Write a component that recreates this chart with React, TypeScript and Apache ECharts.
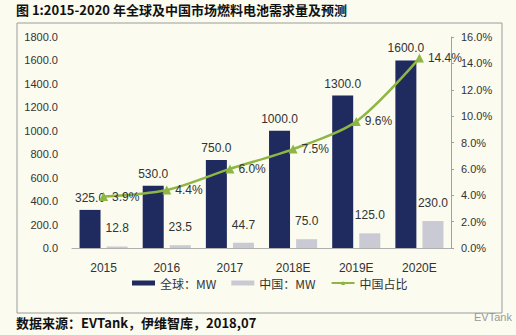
import React, { useEffect, useRef } from "react";
import * as echarts from "echarts";

const categories = ["2015", "2016", "2017", "2018E", "2019E", "2020E"];
const globalMW = [325.0, 530.0, 750.0, 1000.0, 1300.0, 1600.0];
const chinaMW = [12.8, 23.5, 44.7, 75.0, 125.0, 230.0];
const chinaShare = [3.9, 4.4, 6.0, 7.5, 9.6, 14.4];

const FONT = "'Liberation Sans', 'Noto Sans CJK SC', sans-serif";
const CJK = "'Noto Sans CJK SC', 'Liberation Sans', sans-serif";

export default function App() {
  const ref = useRef<HTMLDivElement>(null);
  useEffect(() => {
    if (!ref.current) return;
    const chart = echarts.init(ref.current, null, { renderer: "svg" });
    chart.setOption({
      animation: false,
      backgroundColor: "#fbfbef",
      textStyle: { fontFamily: FONT },
      grid: { left: 72, right: 65, top: 37, bottom: 87, containLabel: false },
      legend: {
        bottom: 41,
        left: 127,
        itemWidth: 23,
        itemHeight: 5,
        itemGap: 15,
        textStyle: { fontFamily: CJK, fontSize: 12, color: "#333" },
        data: [
          { name: "全球：MW", icon: "rect" },
          { name: "中国：MW", icon: "rect" },
          { name: "中国占比" },
        ],
      },
      xAxis: {
        type: "category",
        data: categories,
        axisLine: { show: true, lineStyle: { color: "#b0b0b0" } },
        axisTick: { show: false },
        axisLabel: { color: "#333", fontSize: 12, margin: 14, fontFamily: FONT },
      },
      yAxis: [
        {
          type: "value",
          min: 0,
          max: 1800,
          interval: 200,
          axisLine: { show: false },
          axisTick: { show: false },
          splitLine: { show: false },
          axisLabel: {
            color: "#333",
            fontSize: 11,
            margin: 14,
            formatter: (v: number) => v.toFixed(1),
          },
        },
        {
          type: "value",
          min: 0,
          max: 16,
          interval: 2,
          position: "right",
          axisLine: { show: true, lineStyle: { color: "#a0a0a0" } },
          axisTick: { show: true, length: 3, lineStyle: { color: "#a0a0a0" } },
          splitLine: { show: false },
          axisLabel: {
            color: "#333",
            fontSize: 11,
            margin: 10,
            formatter: (v: number) => v.toFixed(1) + "%",
          },
        },
      ],
      series: [
        {
          name: "全球：MW",
          type: "bar",
          data: globalMW,
          barWidth: 21,
          barGap: "29%",
          itemStyle: { color: "#1f2a5e" },
          label: {
            show: true,
            position: "top",
            distance: 6,
            color: "#333",
            fontSize: 12,
            formatter: (p: any) => Number(p.value).toFixed(1),
          },
        },
        {
          name: "中国：MW",
          type: "bar",
          data: chinaMW,
          barWidth: 21,
          itemStyle: { color: "#c9cad4" },
          label: {
            show: true,
            position: "top",
            distance: 12,
            color: "#333",
            fontSize: 12,
            formatter: (p: any) => Number(p.value).toFixed(1),
          },
        },
        {
          name: "中国占比",
          type: "line",
          yAxisIndex: 1,
          data: chinaShare,
          smooth: 0.3,
          symbol: "triangle",
          symbolSize: 9,
          lineStyle: { color: "#8db645", width: 2.5 },
          itemStyle: { color: "#8db645" },
          label: {
            show: true,
            position: "right",
            distance: 4,
            color: "#333",
            fontSize: 12,
            formatter: (p: any) => Number(p.value).toFixed(1) + "%",
          },
          z: 5,
        },
      ],
      graphic: [
        {
          type: "rect",
          shape: { x: 17, y: 23, width: 485, height: 290 },
          style: { fill: "none", stroke: "#9c9c9c", lineWidth: 1 },
          silent: true,
          z: -1,
        },
        {
          type: "text",
          left: 16,
          top: 3,
          style: {
            text: "图 1:2015-2020 年全球及中国市场燃料电池需求量及预测",
            font: "bold 13px 'Noto Sans CJK SC', 'Liberation Sans', sans-serif",
            fill: "#111",
          },
        },
        {
          type: "text",
          left: 16,
          top: 316,
          style: {
            text: "数据来源：EVTank，伊维智库，2018,07",
            font: "bold 13px 'Noto Sans CJK SC', 'Liberation Sans', sans-serif",
            fill: "#111",
          },
        },
        {
          type: "text",
          left: 474,
          top: 311,
          style: {
            text: "EVTank",
            font: "11px 'Liberation Sans', sans-serif",
            fill: "#999",
          },
        },
      ],
    });
    return () => chart.dispose();
  }, []);
  return (
    <div
      ref={ref}
      style={{ position: "absolute", left: 0, top: 0, width: 516, height: 335 }}
    />
  );
}
